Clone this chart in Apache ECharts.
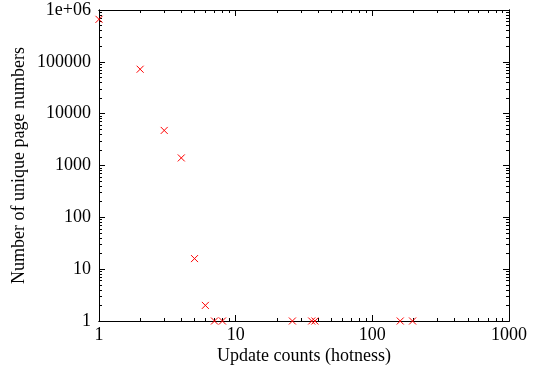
<!DOCTYPE html>
<html>
<head>
<meta charset="utf-8">
<script src="https://cdn.jsdelivr.net/npm/echarts@6/dist/echarts.min.js"></script>
<style>
  html, body { margin: 0; padding: 0; background: #fff; }
  #container { width: 541px; height: 370px; }
</style>
</head>
<body>
<div id="container"></div>
<script>
// update counts (x) and number of unique page numbers (y)
const hotness = [1, 2, 3, 4, 5, 6, 7, 8, 26, 36, 38, 160, 197];
const pageCounts = [660000, 72000, 4750, 1400, 16, 2, 1, 1, 1, 1, 1, 1, 1];

const xMajorTicks = [1, 10, 100, 1000];
const xTickLabels = ['1', '10', '100', '1000'];
const xMinorTicks = [2, 3, 4, 5, 6, 7, 8, 9, 20, 30, 40, 50, 60, 70, 80, 90, 200, 300, 400, 500, 600, 700, 800, 900];
const yMajorTicks = [1, 10, 100, 1000, 10000, 100000, 1000000];
const yTickLabels = ['1', '10', '100', '1000', '10000', '100000', '1e+06'];
const yMinorTicks = [];
[1, 10, 100, 1000, 10000, 100000].forEach(function (d) {
	for (let k = 2; k <= 9; k++) yMinorTicks.push(k * d);
});

const font = 'Liberation Serif';

function logAxis(pos, lo, hi, ticks, len, labels) {
	return {
		type: 'log',
		logBase: 10,
		position: pos,
		min: lo,
		max: hi,
		axisLine: { show: true, onZero: false, lineStyle: { color: '#000', width: 1 } },
		axisTick: { show: true, inside: true, length: len, customValues: ticks, lineStyle: { color: '#000', width: 1 } },
		axisLabel: labels || { show: false },
		splitLine: { show: false },
		minorTick: { show: false },
		minorSplitLine: { show: false }
	};
}

const chart = echarts.init(document.getElementById('container'));
const data = hotness.map(function (h, i) { return [h, pageCounts[i]]; });

const xLabel = {
	show: true,
	customValues: xMajorTicks,
	margin: 5,
	color: '#000',
	fontFamily: font,
	fontSize: 18,
	formatter: function (v) {
		return xTickLabels[Math.round(Math.log10(v))];
	}
};
const yLabel = {
	show: true,
	customValues: yMajorTicks,
	margin: 8,
	color: '#000',
	fontFamily: font,
	fontSize: 18,
	formatter: function (v) {
		return yTickLabels[Math.round(Math.log10(v))];
	}
};

const xMain = logAxis('bottom', 1, 1000, xMajorTicks, 6, xLabel);
xMain.name = 'Update counts (hotness)';
xMain.nameLocation = 'middle';
xMain.nameGap = 26;
xMain.nameMoveOverlap = false;
xMain.nameTextStyle = { color: '#000', fontFamily: font, fontSize: 18 };

const yMain = logAxis('left', 1, 1000000, yMajorTicks, 6, yLabel);
yMain.name = 'Number of unique page numbers';
yMain.nameLocation = 'middle';
yMain.nameGap = 71;
yMain.nameMoveOverlap = false;
yMain.nameTextStyle = { color: '#000', fontFamily: font, fontSize: 18 };

chart.setOption({
	animation: false,
	backgroundColor: '#fff',
	grid: { left: 99, right: 32, top: 10, bottom: 47, containLabel: false },
	xAxis: [
		xMain,
		logAxis('bottom', 1, 1000, xMinorTicks, 3),
		logAxis('top', 1, 1000, xMajorTicks, 6),
		logAxis('top', 1, 1000, xMinorTicks, 3)
	],
	yAxis: [
		yMain,
		logAxis('left', 1, 1000000, yMinorTicks, 3),
		logAxis('right', 1, 1000000, yMajorTicks, 6),
		logAxis('right', 1, 1000000, yMinorTicks, 3)
	],
	series: [{
		type: 'scatter',
		xAxisIndex: 0,
		yAxisIndex: 0,
		symbol: 'path://M0,0L10,10M10,0L0,10',
		symbolSize: 7,
		itemStyle: { color: 'transparent', borderColor: '#ff0000', borderWidth: 1, opacity: 1 },
		clip: false,
		data: data
	}]
});
</script>
</body>
</html>
